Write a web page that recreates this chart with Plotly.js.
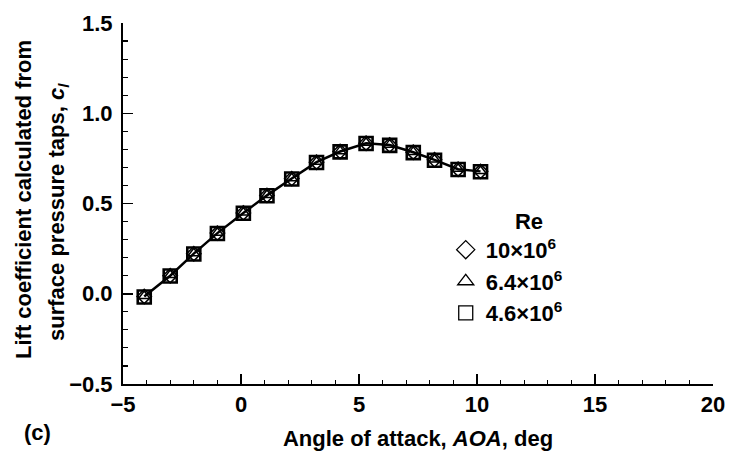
<!DOCTYPE html>
<html>
<head>
<meta charset="utf-8">
<script src="https://cdn.plot.ly/plotly-3.0.1.min.js"></script>
<style>html,body{margin:0;padding:0;background:#fff}</style>
</head>
<body>
<div id="chart" style="width:729px;height:459px"></div>
<script>
// Angle of attack, deg
const aoa = [-4.1, -3.0, -2.0, -1.0, 0.1, 1.1, 2.15, 3.2, 4.2, 5.3, 6.3, 7.3, 8.2, 9.2, 10.15];
// Lift coefficient for each Reynolds number
const clRe10 = [-0.015, 0.100, 0.222, 0.336, 0.448, 0.545, 0.638, 0.729, 0.788, 0.834, 0.824, 0.784, 0.742, 0.690, 0.678];
const clRe64 = [-0.012, 0.104, 0.224, 0.338, 0.450, 0.547, 0.640, 0.731, 0.790, 0.836, 0.826, 0.786, 0.744, 0.692, 0.680];
const clRe46 = [-0.018, 0.098, 0.220, 0.334, 0.446, 0.543, 0.636, 0.727, 0.786, 0.832, 0.822, 0.782, 0.740, 0.688, 0.676];
const seriesNames = ['10×10<sup>6</sup>', '6.4×10<sup>6</sup>', '4.6×10<sup>6</sup>'];
const seriesSymbols = ['diamond-open', 'triangle-up-open', 'square-open'];
const xTickVals = [-5, 0, 5, 10, 15, 20];
const yTickVals = [-0.5, 0.0, 0.5, 1.0, 1.5];

const FONT = 'Liberation Sans, Arial, Helvetica, sans-serif';
const FS = 22;
const tf = (s) => ({family: FONT, size: s || FS, color: '#000', weight: 'bold'});

// plotted marker styles (dense, overlapping as in the scan)
const markerStyle = [
  {size: 11, width: 1.5},
  {size: 10, width: 1.5},
  {size: 13, width: 2.6}
];
const seriesValues = [clRe10, clRe64, clRe46];

const data = [
  {x: aoa, y: clRe10, mode: 'lines', type: 'scatter', showlegend: false,
   line: {color: '#000', width: 2.5}}
];
seriesValues.forEach((vals, i) => {
  data.push({
    x: aoa, y: vals, name: seriesNames[i], mode: 'markers', type: 'scatter', showlegend: false,
    marker: {symbol: seriesSymbols[i], size: markerStyle[i].size, color: '#000',
             line: {color: '#000', width: markerStyle[i].width}},
    cliponaxis: false
  });
});
// legend keys (thin open symbols)
seriesNames.forEach((nm, i) => {
  data.push({
    x: [null], y: [null], name: nm, mode: 'markers', type: 'scatter', showlegend: true,
    marker: {symbol: seriesSymbols[i], size: 14, color: '#000', line: {color: '#000', width: 1.3}}
  });
});

const layout = {
  width: 729, height: 459,
  margin: {l: 123, r: 16, t: 23, b: 75},
  paper_bgcolor: '#fff', plot_bgcolor: '#fff',
  font: tf(),
  showlegend: true,
  legend: {
    x: 0.547, y: 0.509, xanchor: 'left', yanchor: 'top',
    bgcolor: 'rgba(0,0,0,0)', borderwidth: 0, tracegroupgap: 0,
    font: tf(22),
    title: {text: '\u00a0'.repeat(11) + 'Re', side: 'top', font: tf(22)},
    itemclick: false
  },
  xaxis: {
    range: [-5, 20], tickvals: xTickVals, ticktext: xTickVals.map(v => v < 0 ? '\u2212' + Math.abs(v) : String(v)),
    showline: true, linecolor: '#000', linewidth: 2, mirror: false,
    ticks: 'inside', ticklen: 10, tickwidth: 1.5, tickcolor: '#000',
    minor: {dtick: 1, ticks: 'inside', ticklen: 4, tickwidth: 1.2, tickcolor: '#000', showgrid: false},
    showgrid: false, zeroline: false,
    tickfont: tf(),
    title: {text: 'Angle of attack, <i>AOA</i>, deg', standoff: 14, font: tf()}
  },
  yaxis: {
    range: [-0.5, 1.5], tickvals: yTickVals, ticktext: yTickVals.map(v => (v < 0 ? '\u2212' : '') + Math.abs(v).toFixed(1)),
    showline: true, linecolor: '#000', linewidth: 2, mirror: false,
    ticks: 'inside', ticklen: 10, tickwidth: 1.5, tickcolor: '#000',
    minor: {dtick: 0.1, ticks: 'inside', ticklen: 5, tickwidth: 1.2, tickcolor: '#000', showgrid: false},
    showgrid: false, zeroline: false,
    tickfont: tf(),
    ticklabelstandoff: 4,
    title: {text: ''}
  },
  annotations: [
    {text: 'Lift coefficient calculated from', xref: 'paper', yref: 'paper',
     x: (23 - 123) / 590, y: 1 - (200 - 23) / 361, textangle: -90, showarrow: false,
     xanchor: 'center', yanchor: 'middle', font: tf()},
    {text: 'surface pressure taps, <i>c<sub>l</sub></i>', xref: 'paper', yref: 'paper',
     x: (58 - 123) / 590, y: 1 - (212 - 23) / 361, textangle: -90, showarrow: false,
     xanchor: 'center', yanchor: 'middle', font: tf()},
    {text: '(c)', xref: 'paper', yref: 'paper',
     x: (37 - 123) / 590, y: 1 - (432 - 23) / 361, showarrow: false,
     xanchor: 'center', yanchor: 'middle', font: tf()}
  ]
};

Plotly.newPlot('chart', data, layout, {displayModeBar: false, staticPlot: true});
</script>
</body>
</html>
